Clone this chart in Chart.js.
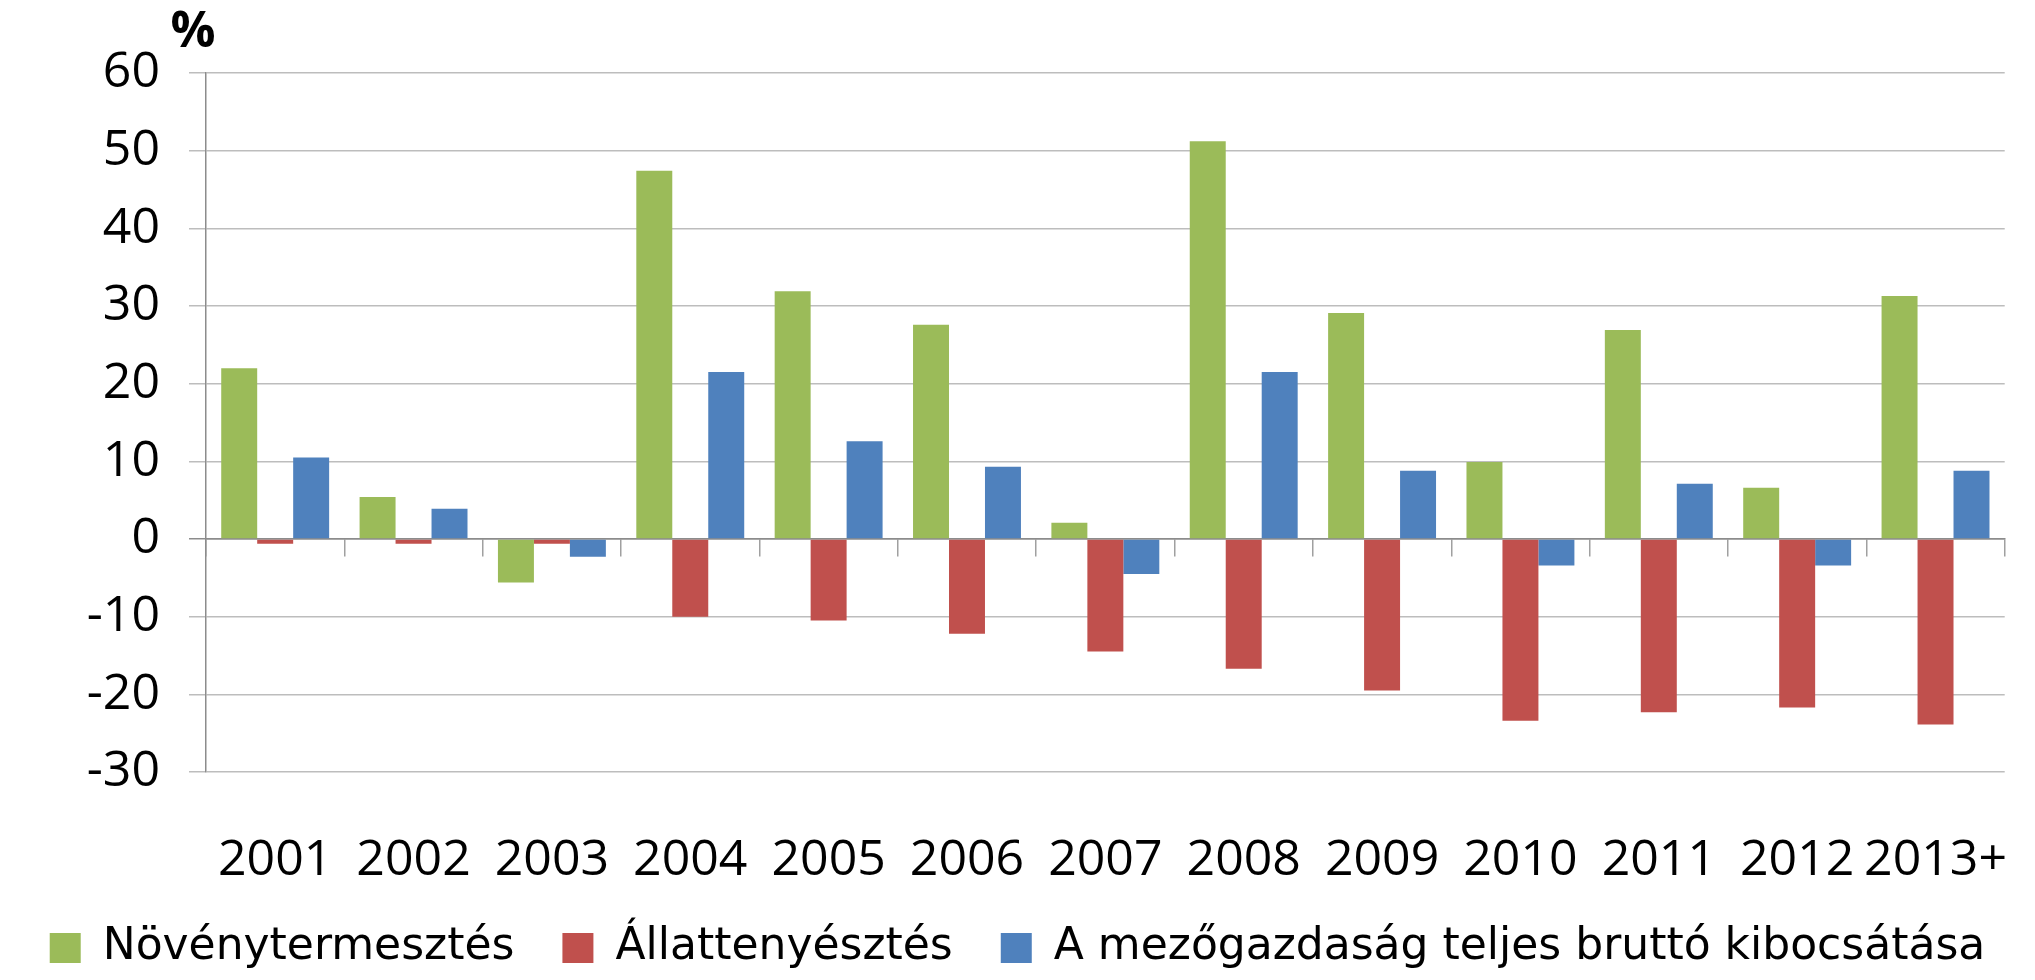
<!DOCTYPE html>
<html>
<head>
<meta charset="utf-8">
<script src="https://cdn.jsdelivr.net/npm/chart.js@4"></script>
<style>
  body { margin: 0; background: #fff; }
  #wrap { width: 2035px; height: 980px; }
</style>
</head>
<body>
<div id="wrap"><canvas id="barChart"></canvas></div>
<script>
// years on the category axis
const years = ["2001","2002","2003","2004","2005","2006","2007","2008","2009","2010","2011","2012","2013+"];

// yearly change, %
const novenytermesztes = [22.0, 5.4, -5.6, 47.4, 31.9, 27.6, 2.1, 51.2, 29.1, 9.9, 26.9, 6.6, 31.3];
const allattenyesztes = [-0.6, -0.6, -0.6, -10.0, -10.5, -12.2, -14.5, -16.7, -19.5, -23.4, -22.3, -21.7, -23.9];
const bruttoKibocsatas = [10.5, 3.9, -2.3, 21.5, 12.6, 9.3, -4.5, 21.5, 8.8, -3.4, 7.1, -3.4, 8.8];

const yMin = -30, yMax = 60, yStep = 10;

const tickFont = { family: "'Open Sans', sans-serif", size: 50 };

// the "%" unit label above the value axis
const unitLabel = {
  id: 'unitLabel',
  afterDraw(chart) {
    const ctx = chart.ctx, area = chart.chartArea;
    ctx.save();
    ctx.font = "bold 50px 'Open Sans', sans-serif";
    ctx.fillStyle = '#000';
    ctx.textAlign = 'center';
    ctx.textBaseline = 'middle';
    ctx.fillText('%', area.left - 13, area.top - 40);
    ctx.restore();
  }
};

new Chart(document.getElementById("barChart"), {
  type: 'bar',
  data: {
    labels: years,
    datasets: [{
        label: "Növénytermesztés",
        data: novenytermesztes,
        backgroundColor: "#9BBB59"
      }, {
        label: "Állattenyésztés",
        data: allattenyesztes,
        backgroundColor: "#C0504D"
      }, {
        label: "A mezőgazdaság teljes bruttó kibocsátása",
        data: bruttoKibocsatas,
        backgroundColor: "#4F81BD"
      }
    ]
  },
  options: {
    responsive: true,
    maintainAspectRatio: false,
    animation: false,
    devicePixelRatio: 1,
    categoryPercentage: 0.78,
    barPercentage: 1.0,
    layout: { padding: { top: 73, right: 0, left: 0, bottom: 0 } },
    plugins: {
      tooltip: { enabled: false },
      legend: {
        position: 'bottom',
        labels: {
          font: { family: "'DejaVu Sans', sans-serif", size: 44 },
          color: '#000',
          boxWidth: 31,
          boxHeight: 30,
          padding: 48
        }
      }
    },
    scales: {
      x: {
        type: 'category',
        position: 'bottom',
        // hidden tick marks only push the labels down; padding also keeps a right margin
        grid: { display: false, drawTicks: true, tickLength: 31 },
        border: { display: false },
        ticks: { font: tickFont, color: '#000', padding: 28, maxRotation: 0, autoSkip: false },
        afterFit: s => { s.height = 106; }
      },
      x0: {
        type: 'category',
        axis: 'x',
        position: { y: 0 },
        offset: true,
        grid: { offset: true, drawOnChartArea: false, drawTicks: true, tickLength: 17, color: '#a0a0a0', lineWidth: 1.5 },
        border: { display: true, color: '#8c8c8c', width: 1.5 },
        ticks: { display: false },
        afterFit: s => { s.height = 0; }
      },
      y: {
        min: yMin,
        max: yMax,
        ticks: { stepSize: yStep, font: tickFont, color: '#000', padding: 29 },
        grid: {
          tickLength: 17,
          lineWidth: 1.5,
          color: c => (c.tick && c.tick.value === 0) ? '#8c8c8c' : '#bdbdbd'
        },
        border: { display: true, color: '#8c8c8c', width: 1.5 },
        afterFit: s => { s.width = 206; }
      }
    }
  },
  plugins: [unitLabel]
});
</script>
</body>
</html>
